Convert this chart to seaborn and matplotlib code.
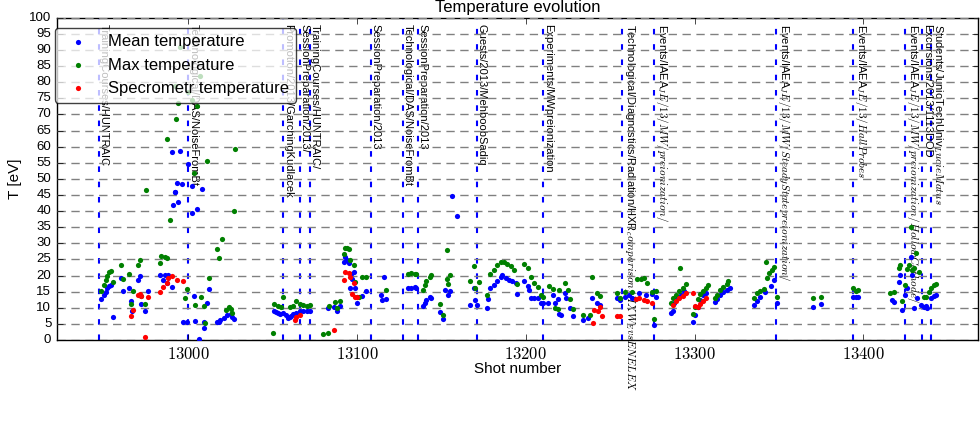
import matplotlib
matplotlib.use('Agg')
import matplotlib.pyplot as plt
import matplotlib.ticker as mticker
import seaborn as sns

# Shot numbers and temperatures [eV]
mean_shot = [12948, 12950, 12951, 12952, 12953, 12954, 12955, 12960, 12961, 12965, 12966, 12966.5,
             12970, 12971, 12972, 12974, 12976, 12983, 12985, 12986, 12987, 12988, 12990, 12990,
             12991, 12992, 12992, 12993, 12994, 12995, 12996, 12997, 12999, 13000, 13002, 13002,
             13003, 13004, 13005, 13006, 13008, 13009, 13009.5, 13011, 13012, 13017, 13018, 13019,
             13021, 13023, 13025, 13026, 13027,
             13051, 13052, 13053, 13054, 13056, 13058, 13059, 13060, 13061, 13062, 13064, 13066,
             13068, 13070, 13072,
             13083, 13086, 13088, 13090, 13092, 13093, 13094, 13095, 13096, 13096.5, 13097, 13098,
             13099, 13100, 13103, 13105, 13114, 13115, 13116, 13117, 13130, 13132, 13134, 13135,
             13139, 13140, 13141, 13143, 13144, 13149, 13151, 13152, 13154, 13155, 13156, 13159,
             13167, 13169, 13170, 13171, 13177, 13177.5, 13179, 13181, 13183, 13185, 13186, 13188,
             13190, 13192, 13194, 13195, 13199, 13201, 13202, 13203, 13205, 13207, 13209,
             13210, 13213, 13216, 13217, 13219, 13219.5, 13221, 13223, 13224, 13226, 13228, 13234,
             13237, 13239, 13242, 13244,
             13254, 13256, 13259, 13261, 13263, 13267, 13271, 13275, 13277, 13276,
             13286, 13287, 13288, 13290, 13292, 13294,
             13299, 13300, 13302, 13303, 13305, 13307,
             13312, 13313, 13315, 13317, 13319, 13321,
             13335, 13337, 13339, 13342, 13345, 13347, 13349,
             13370, 13375, 13394, 13395.5, 13397,
             13417, 13418, 13421, 13422, 13423, 13425, 13426, 13428, 13429, 13430, 13432, 13434,
             13436, 13437, 13438, 13440, 13442, 13443]
mean_T = [12.7, 14.0, 15.0, 16.0, 16.8, 17.2, 7.1, 19.3, 15.2, 16.1, 12.1, 9.0,
          18.6, 19.9, 11.2, 9.0, 15.2, 20.2, 18.6, 20.2, 17.8, 20.2, 16.6, 58.4,
          41.9, 45.9, 46.0, 48.8, 42.9, 58.7, 48.4, 5.6, 5.6, 54.6, 39.4, 47.8,
          13.7, 5.9, 40.6, 0.3, 46.9, 5.6, 3.7, 11.5, 15.8, 5.6, 5.6, 6.2,
          6.8, 7.8, 8.1, 7.1, 6.5,
          9.0, 8.7, 8.4, 8.1, 8.4, 7.8, 6.8, 7.1, 7.5, 8.1, 8.4, 9.0,
          9.0, 9.0, 9.0,
          9.9, 10.2, 9.0, 10.5, 24.2, 25.8, 24.8, 24.0, 16.1, 20.5, 19.0, 21.0,
          16.0, 11.5, 13.7, 15.2, 14.0, 12.4, 19.6, 12.8, 16.2, 16.2, 16.5, 16.2,
          10.6, 11.5, 12.4, 13.4, 13.0, 8.7, 6.5, 15.5, 14.0, 15.2, 44.7, 38.5,
          11.0, 16.1, 12.4, 11.0, 10.0, 12.7, 16.1, 17.1, 18.3, 19.6, 20.2, 19.3,
          18.6, 18.3, 17.7, 14.3, 18.3, 16.8, 15.5, 13.0, 13.0, 13.0, 11.5,
          11.5, 11.5, 14.0, 11.5, 12.7, 8.0, 7.8, 14.6, 13.0, 10.0, 7.5, 6.2,
          6.8, 13.0, 11.5, 10.9,
          13.0, 12.4, 13.4, 14.0, 13.0, 14.6, 14.0, 14.3, 13.4, 4.7,
          8.4, 9.0, 11.5, 13.0, 14.0, 15.2,
          5.6, 7.8, 10.2, 12.4, 14.0, 14.6,
          11.8, 12.7, 14.0, 14.9, 15.5, 16.1,
          10.9, 12.1, 13.4, 14.9, 16.8, 18.6, 11.5,
          10.2, 11.2, 13.4, 13.4, 13.4,
          12.4, 11.8, 18.0, 20.2, 9.3, 14.0, 16.1, 25.8, 20.2, 9.9, 13.0, 10.9,
          10.2, 10.6, 9.9, 13.0, 13.7, 14.0]

max_shot = [12948, 12950, 12951, 12952, 12953, 12954, 12955, 12960, 12961, 12965, 12966, 12967,
            12970, 12971, 12972, 12974, 12975, 12983, 12984, 12986, 12987, 12987.5, 12989, 12992,
            12992.5, 12994, 12995, 12998, 12999, 13000, 13002, 13003, 13004, 13005, 13007, 13007.5,
            13009, 13010, 13011, 13012, 13017, 13018, 13020, 13022, 13024, 13025, 13026, 13027,
            13027.5,
            13050, 13051, 13053, 13055, 13056, 13060, 13062, 13064, 13066, 13068, 13070, 13072,
            13080, 13083, 13083.5, 13087, 13088, 13090, 13092, 13093, 13094, 13095, 13096, 13098,
            13099, 13100, 13101, 13103, 13105, 13117, 13130, 13132, 13134, 13135, 13139, 13140,
            13141, 13143, 13144, 13149, 13151, 13153, 13153.5, 13154, 13155, 13167, 13169, 13170,
            13172, 13177, 13179, 13181, 13183, 13185, 13187, 13189, 13191, 13193, 13195, 13199,
            13201, 13203, 13205, 13207, 13209,
            13210, 13214, 13216, 13217, 13219, 13219.5, 13223, 13225, 13226, 13228, 13234, 13238,
            13239, 13242, 13244,
            13254, 13256, 13259, 13263, 13266, 13268, 13270, 13272, 13275, 13277, 13276,
            13286, 13287, 13289, 13291, 13293, 13295, 13291.5,
            13299, 13300, 13302, 13303, 13305, 13307, 13308,
            13312, 13313, 13315, 13317, 13319, 13320,
            13335, 13337, 13339, 13341, 13343, 13344, 13346, 13347, 13342.5, 13349,
            13370, 13375, 13394, 13395.5, 13397,
            13416, 13418, 13421, 13422, 13423, 13425, 13426, 13427, 13428, 13429, 13430, 13431,
            13433, 13436, 13437, 13439, 13440, 13442, 13443]
max_T = [15.2, 17.0, 18.6, 19.9, 21.0, 21.4, 18.0, 23.3, 18.9, 20.5, 11.2, 15.2,
         23.3, 24.8, 13.7, 11.2, 46.6, 23.9, 26.1, 25.8, 25.5, 62.4, 37.3, 79.0,
         68.6, 73.6, 91.0, 13.0, 15.8, 77.0, 74.5, 51.9, 10.9, 72.7, 82.0, 13.4,
         10.6, 5.3, 55.6, 19.3, 28.3, 25.5, 31.4, 9.3, 10.2, 9.6, 8.4, 40.0,
         59.3,
         2.2, 11.2, 10.6, 10.2, 13.4, 10.2, 10.6, 12.1, 11.2, 10.9, 10.6, 10.9,
         1.9, 2.2, 10.5, 11.8, 9.9, 12.1, 26.7, 28.6, 28.6, 28.3, 24.8, 23.3,
         18.0, 13.4, 13.4, 19.6, 19.6, 15.5, 20.5, 20.8, 20.5, 20.5, 15.5, 17.1,
         18.3, 19.6, 20.2, 11.2, 7.8, 28.0, 19.0, 17.4, 20.2, 18.3, 23.0, 16.2,
         18.0, 14.0, 20.5, 21.7, 23.3, 24.2, 24.2, 23.6, 23.0, 21.7, 17.4, 23.6,
         22.4, 19.6, 17.7, 16.5, 14.0,
         13.4, 16.8, 15.8, 10.0, 9.6, 15.5, 17.7, 15.5, 12.7, 9.6, 7.8, 7.8,
         19.6, 14.6, 13.7,
         14.6, 13.0, 14.9, 14.9, 18.9, 18.9, 19.3, 17.7, 14.9, 15.2, 6.5,
         11.5, 13.0, 14.0, 15.2, 16.1, 17.4, 22.4,
         8.1, 10.2, 12.7, 14.3, 15.2, 16.1, 17.1,
         13.0, 14.0, 15.5, 16.5, 17.4, 18.3,
         13.0, 14.6, 15.2, 15.8, 19.3, 20.8, 21.7, 22.7, 24.2, 13.4,
         13.0, 13.4, 16.1, 15.2, 15.5,
         14.6, 14.9, 22.4, 23.3, 12.1, 17.1, 22.0, 23.3, 35.1, 21.7, 22.4, 27.0,
         21.1, 13.4, 13.4, 14.9, 16.1, 17.1, 17.4]

spec_shot = [12966, 12967, 12970, 12971, 12972, 12974, 12976, 12983, 12985, 12987, 12988, 12990,
             12993, 12997, 13063, 13064, 13066,
             13086, 13092, 13093, 13095, 13096, 13097, 13098, 13099, 13100,
             13240, 13240.5, 13243, 13244, 13245, 13254, 13256, 13265, 13267, 13270, 13272, 13275,
             13287, 13289, 13291, 13293, 13295, 13299, 13300, 13302, 13303, 13305, 13307]
spec_T = [7.5, 9.3, 14.0, 14.3, 13.7, 0.9, 13.4, 15.0, 16.5, 17.8, 19.3, 20.0,
          18.6, 18.3, 6.2, 7.1, 7.8,
          3.1, 18.6, 21.0, 20.9, 19.6, 14.3, 17.7, 13.4, 13.4,
          5.3, 9.3, 9.0, 10.2, 7.4, 7.5, 7.5, 12.7, 13.0, 12.4, 12.1, 11.5,
          10.9, 12.1, 13.0, 13.7, 14.6, 14.6, 10.5, 10.2, 11.2, 12.1, 13.0]

# Logbook events (vertical markers)
event_shot = [12947, 13000, 13056, 13066, 13072, 13108, 13127, 13136, 13171, 13210,
              13257, 13276, 13348.5, 13394, 13425, 13435, 13440]
event_label = ['TrainingCourses/HUNTRAIC',
               'Technological/DAS/NoiseFromBt',
               'Promotion/2013/GarchingKudlacek',
               'SessionPreparation/2013/',
               'TrainingCourses/HUNTRAIC/',
               'SessionPreparation/2013',
               'Technological/DAS/NoiseFromBt',
               'SessionPreparation/2013',
               'Guests/2013/MehboobSadiq',
               'Experiments/MWpreionization',
               'Technological/Diagnostics/Radiation/HXR$_{c}omparison/HXW_{E}vsENELEX$',
               'Events/IAEA$_{J}E/13/MW/preionization/$',
               'Events/IAEA$_{J}E/13/MW/SteadyStatepreionization/$',
               'Events/IAEA$_{J}E/13/HallProbes$',
               'Events/IAEA$_{J}E/13/MW/preionization/HollowCathode/$',
               'Excursions/2013/1113DOD',
               'Students/JunioTechUniv$_{L}ucieMatus$']

plt.style.use('classic')
plt.rcParams['font.family'] = ['Liberation Sans', 'DejaVu Sans']
plt.rcParams['mathtext.fontset'] = 'cm'
plt.rcParams['lines.scale_dashes'] = False

fig = plt.figure(figsize=(9.8, 4.25), dpi=100, facecolor='white')
ax = fig.add_axes([0.058, 0.2, 0.94, 0.758])

for x, lab in zip(event_shot, event_label):
    ax.axvline(x, color='b', lw=1.5, dashes=(4, 7), zorder=1)
    ax.text(x, 98, lab, rotation=270, ha='left', va='top', fontsize=8, zorder=2)

sns.scatterplot(x=mean_shot, y=mean_T, color='b', s=14, linewidth=0,
                label='Mean temperature', ax=ax, zorder=3)
sns.scatterplot(x=max_shot, y=max_T, color='g', s=14, linewidth=0,
                label='Max temperature', ax=ax, zorder=3)
sns.scatterplot(x=spec_shot, y=spec_T, color='r', s=14, linewidth=0,
                label='Specrometr temperature', ax=ax, zorder=3)

ax.set_xlim(12922, 13468)
ax.set_ylim(0, 100)
ax.set_yticks(range(0, 101, 5))
ax.set_xticks([13000, 13100, 13200, 13300, 13400])
ax.xaxis.set_major_formatter(mticker.FuncFormatter(lambda v, p: '$%d$' % v))
ax.tick_params(axis='x', labelsize=12, pad=4)
ax.tick_params(axis='y', labelsize=9.5)
ax.yaxis.grid(True, color='0.5', ls='--', dashes=(6, 4), lw=1)
ax.xaxis.grid(False)

ax.set_title('Temperature evolution', fontsize=12, pad=4)
ax.set_xlabel('Shot number', fontsize=11, labelpad=0.5)
ax.set_ylabel('T [eV]', fontsize=11)

ax.legend(loc='upper left', bbox_to_anchor=(-0.002, 0.97), borderaxespad=0,
          scatterpoints=1, fancybox=True, framealpha=0.75, fontsize=12)

fig.savefig('out.png', dpi=100, facecolor='white')
